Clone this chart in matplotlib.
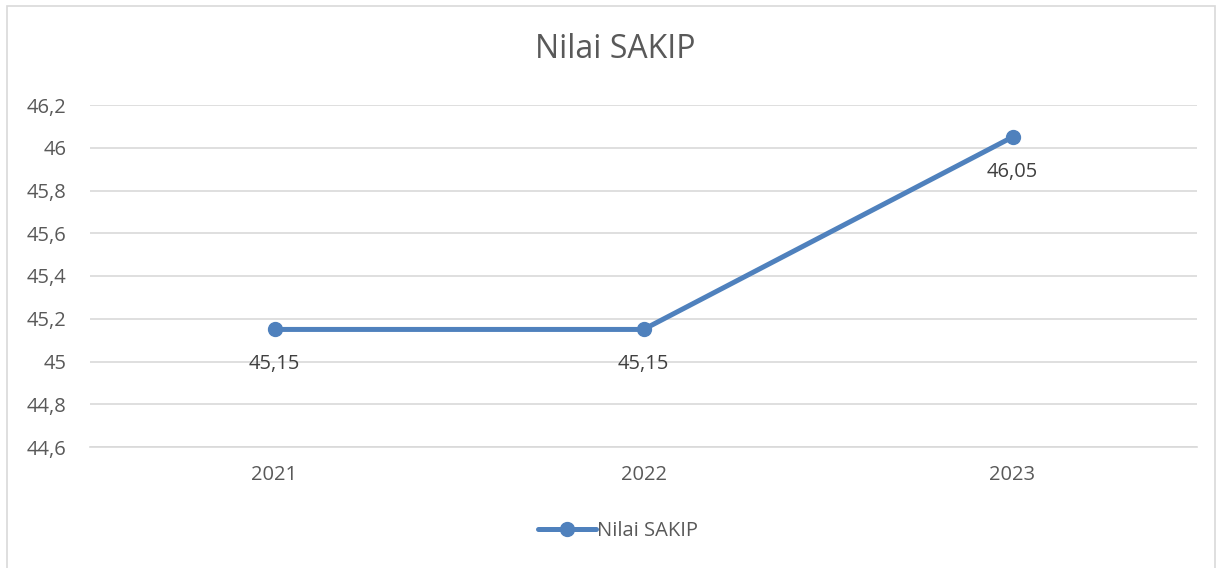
import matplotlib
matplotlib.use('Agg')
import matplotlib.pyplot as plt
import matplotlib.patches as patches
from matplotlib.ticker import FuncFormatter

# --- DATA ---
years = ["2021", "2022", "2023"]
values = [45.15, 45.15, 46.05]
y_ticks = [44.6, 44.8, 45.0, 45.2, 45.4, 45.6, 45.8, 46.0, 46.2]

LINE_C = '#4f81bd'
TEXT_C = '#595959'
GRID_C = '#d9d9d9'

plt.rcParams['font.family'] = ['Open Sans', 'DejaVu Sans']

W, H = 1225, 568
fig = plt.figure(figsize=(W / 100, H / 100), dpi=100)

# chart border (runs off the bottom like the screenshot)
fig.patches.append(patches.Rectangle((7 / W, -0.05), (1215 - 7) / W, 1.05 - 6 / H,
                                     transform=fig.transFigure, fill=False,
                                     edgecolor='#d9d9d9', linewidth=1.2))

ax = fig.add_axes([90 / W, 1 - 447 / H, (1197 - 90) / W, (447 - 105) / H])
x = list(range(len(years)))
ax.plot(x, values, color=LINE_C, linewidth=3.6, marker='o', markersize=10,
        solid_capstyle='round', label='Nilai SAKIP', zorder=3)

for xi, v in zip(x, values):
    lbl = f"{v:.2f}".replace('.', ',')
    ax.annotate(lbl, (xi, v), xytext=(0, -25), textcoords='offset points',
                ha='center', va='center', fontsize=14.5, color='#404040')

ax.set_xlim(-0.5, 2.5)
ax.set_ylim(44.6, 46.2)
ax.set_yticks(y_ticks)
ax.yaxis.set_major_formatter(FuncFormatter(lambda v, p: f"{v:.1f}".rstrip('0').rstrip('.').replace('.', ',')))
ax.set_xticks(x)
ax.set_xticklabels(years)
ax.grid(axis='y', color=GRID_C, linewidth=1.2)
ax.set_axisbelow(True)
for s in ['top', 'right', 'left']:
    ax.spines[s].set_visible(False)
ax.spines['bottom'].set_color(GRID_C)
ax.spines['bottom'].set_linewidth(1.2)
ax.tick_params(axis='both', length=0, labelsize=14.5, colors=TEXT_C)
ax.tick_params(axis='y', pad=17)
ax.tick_params(axis='x', pad=13)

fig.text(615 / W, 1 - 50 / H, "Nilai SAKIP", ha='center', va='center', fontsize=23, color=TEXT_C)

leg = fig.legend(loc='center', bbox_to_anchor=(618 / W, 1 - 531 / H), frameon=False,
                 fontsize=14.5, handlelength=2.9, handletextpad=0.05)
for t in leg.get_texts():
    t.set_color(TEXT_C)

fig.savefig('out.png', dpi=100)
